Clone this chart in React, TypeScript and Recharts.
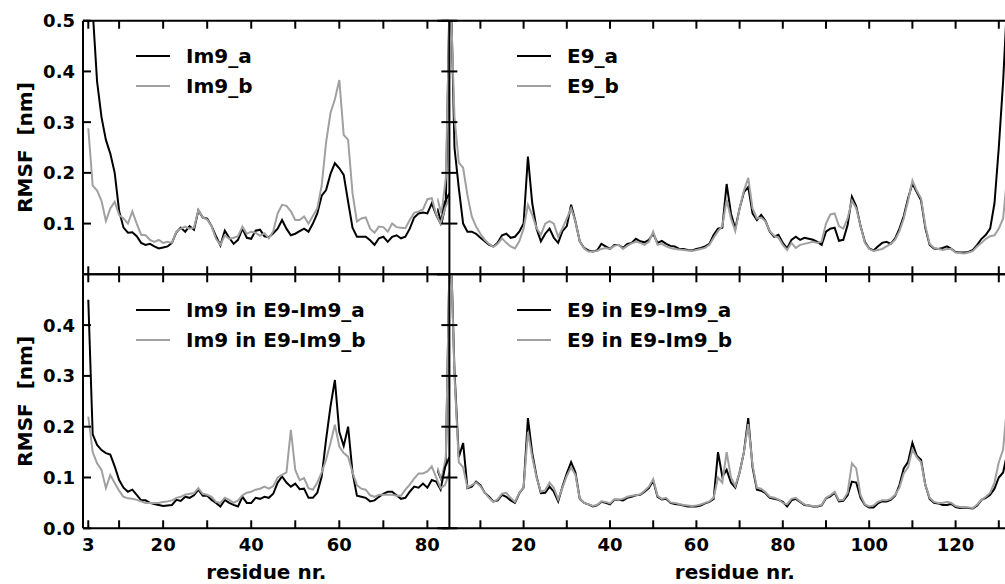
import React from "react";
import { LineChart, Line, XAxis, YAxis, Legend } from "recharts";

const FONT = "'DejaVu Sans', 'Liberation Sans', sans-serif";
const INK = "#000000";
const GREY = "#a0a0a0";

// Im9 residues, first value is residue 3
const IM9_FIRST = 3;
const im9A = [
  0.62, 0.52, 0.38, 0.31, 0.265, 0.238, 0.2, 0.125, 0.092, 0.082,
  0.083, 0.075, 0.062, 0.058, 0.06, 0.055, 0.051, 0.053, 0.055, 0.062,
  0.083, 0.092, 0.084, 0.095, 0.088, 0.126, 0.112, 0.11, 0.095, 0.075,
  0.057, 0.086, 0.072, 0.06, 0.068, 0.09, 0.072, 0.07, 0.086, 0.088,
  0.075, 0.073, 0.081, 0.09, 0.107, 0.09, 0.077, 0.08, 0.085, 0.09,
  0.084, 0.1, 0.12, 0.155, 0.166, 0.198, 0.219, 0.209, 0.196, 0.143,
  0.092, 0.074, 0.074, 0.074, 0.067, 0.058, 0.071, 0.074, 0.064, 0.074,
  0.077, 0.071, 0.074, 0.09, 0.112, 0.12, 0.122, 0.12, 0.14, 0.117,
  0.1, 0.143, 0.16,
];
const im9B = [
  0.288, 0.175, 0.165, 0.145, 0.105, 0.13, 0.143, 0.117, 0.11, 0.1,
  0.124, 0.1, 0.078, 0.077, 0.068, 0.064, 0.068, 0.062, 0.064, 0.062,
  0.084, 0.09, 0.094, 0.09, 0.092, 0.127, 0.112, 0.108, 0.095, 0.07,
  0.058, 0.077, 0.07, 0.072, 0.075, 0.094, 0.08, 0.084, 0.082, 0.076,
  0.081, 0.071, 0.085, 0.12, 0.137, 0.135, 0.124, 0.107, 0.107, 0.114,
  0.1, 0.115, 0.13, 0.175, 0.26, 0.318, 0.345, 0.383, 0.275, 0.265,
  0.16, 0.104, 0.11, 0.112, 0.09, 0.082, 0.094, 0.093, 0.084, 0.1,
  0.093, 0.092, 0.091, 0.107, 0.121, 0.124, 0.128, 0.148, 0.15, 0.118,
  0.1, 0.13, 0.15,
];
const im9InA = [
  0.45, 0.185, 0.164, 0.154, 0.148, 0.145, 0.122, 0.095, 0.08, 0.072,
  0.076, 0.066, 0.055, 0.055, 0.05, 0.048, 0.046, 0.044, 0.045, 0.046,
  0.056, 0.054, 0.062, 0.06, 0.065, 0.076, 0.064, 0.064, 0.056, 0.05,
  0.043, 0.056, 0.05, 0.046, 0.043, 0.062, 0.05, 0.05, 0.06, 0.058,
  0.062, 0.06, 0.068, 0.09, 0.102, 0.09, 0.082, 0.088, 0.077, 0.078,
  0.06, 0.06, 0.07, 0.102, 0.175, 0.24, 0.292, 0.19, 0.162, 0.2,
  0.11, 0.064, 0.062, 0.06, 0.053, 0.055, 0.062, 0.068, 0.072, 0.072,
  0.065, 0.058, 0.06, 0.072, 0.082, 0.08, 0.088, 0.08, 0.095, 0.092,
  0.076, 0.12, 0.14,
];
const im9InB = [
  0.22, 0.15, 0.128, 0.115, 0.079, 0.105, 0.089, 0.074, 0.062, 0.059,
  0.058, 0.056, 0.053, 0.05, 0.05, 0.05, 0.05, 0.052, 0.053, 0.055,
  0.06, 0.062, 0.066, 0.068, 0.069, 0.079, 0.068, 0.066, 0.062, 0.052,
  0.05, 0.06, 0.056, 0.05, 0.055, 0.065, 0.07, 0.072, 0.076, 0.078,
  0.082, 0.078, 0.083, 0.1, 0.105, 0.11, 0.194, 0.115, 0.095, 0.099,
  0.079, 0.076, 0.09, 0.11, 0.135, 0.168, 0.204, 0.161, 0.148, 0.141,
  0.11, 0.085, 0.078, 0.076, 0.065, 0.062, 0.066, 0.066, 0.066, 0.066,
  0.064, 0.064, 0.076, 0.086, 0.098, 0.108, 0.108, 0.112, 0.122, 0.1,
  0.079, 0.085, 0.11,
];

// E9 residues, first value is residue 0
const E9_FIRST = 0;
const e9A = [
  0.13, 0.1, 0.14, 0.62, 0.25, 0.17, 0.1, 0.084, 0.084, 0.08,
  0.072, 0.065, 0.058, 0.055, 0.062, 0.077, 0.08, 0.072, 0.074, 0.084,
  0.1, 0.232, 0.14, 0.09, 0.065, 0.08, 0.09, 0.072, 0.062, 0.085,
  0.095, 0.137, 0.104, 0.065, 0.052, 0.047, 0.045, 0.047, 0.06, 0.055,
  0.05, 0.058, 0.058, 0.052, 0.06, 0.062, 0.07, 0.065, 0.063, 0.068,
  0.08, 0.062, 0.066, 0.06, 0.056, 0.055, 0.05, 0.05, 0.048, 0.047,
  0.05, 0.052, 0.055, 0.06, 0.078, 0.09, 0.092, 0.178, 0.12, 0.09,
  0.13, 0.162, 0.172, 0.12, 0.107, 0.117, 0.105, 0.084, 0.074, 0.078,
  0.062, 0.051, 0.068, 0.074, 0.068, 0.072, 0.07, 0.068, 0.064, 0.058,
  0.084, 0.09, 0.092, 0.066, 0.068, 0.097, 0.153, 0.134, 0.095, 0.064,
  0.051, 0.047, 0.055, 0.062, 0.064, 0.06, 0.071, 0.09, 0.115, 0.15,
  0.179, 0.162, 0.146, 0.091, 0.058, 0.051, 0.05, 0.052, 0.055, 0.05,
  0.044, 0.043, 0.043, 0.044, 0.048, 0.058, 0.07, 0.078, 0.09, 0.14,
  0.25, 0.38, 0.55, 0.6, 0.6,
];
const e9B = [
  0.15, 0.12, 0.19, 0.58, 0.31, 0.22, 0.21, 0.156, 0.114, 0.094,
  0.08, 0.068, 0.06, 0.054, 0.06, 0.071, 0.062, 0.055, 0.051, 0.065,
  0.09, 0.137, 0.117, 0.091, 0.078, 0.1, 0.105, 0.1, 0.074, 0.091,
  0.11, 0.13, 0.104, 0.065, 0.051, 0.045, 0.045, 0.046, 0.05, 0.052,
  0.05, 0.056, 0.058, 0.05, 0.056, 0.061, 0.064, 0.062, 0.058, 0.064,
  0.084, 0.058, 0.06, 0.055, 0.052, 0.05, 0.049, 0.048, 0.047, 0.046,
  0.048, 0.05, 0.052, 0.058, 0.072, 0.085, 0.095, 0.147, 0.11, 0.085,
  0.13, 0.165, 0.19, 0.13, 0.11, 0.112, 0.104, 0.085, 0.076, 0.072,
  0.058, 0.048, 0.062, 0.052, 0.058, 0.06, 0.062, 0.064, 0.062, 0.065,
  0.1, 0.118, 0.12, 0.095, 0.09, 0.11, 0.145, 0.13, 0.095, 0.062,
  0.05, 0.046, 0.048, 0.05, 0.055, 0.06, 0.068, 0.085, 0.11, 0.145,
  0.185, 0.165, 0.15, 0.095, 0.06, 0.052, 0.05, 0.048, 0.05, 0.05,
  0.043, 0.042, 0.041, 0.043, 0.046, 0.055, 0.062, 0.07, 0.075, 0.077,
  0.09, 0.11, 0.2, 0.4, 0.5,
];
const e9InA = [
  0.115, 0.095, 0.13, 0.6, 0.31, 0.14, 0.168, 0.079, 0.082, 0.092,
  0.085, 0.07, 0.062, 0.053, 0.055, 0.066, 0.062, 0.055, 0.05, 0.069,
  0.08, 0.217, 0.148, 0.102, 0.069, 0.07, 0.082, 0.072, 0.053, 0.082,
  0.108, 0.13, 0.11, 0.058, 0.05, 0.047, 0.043, 0.045, 0.052, 0.05,
  0.047, 0.056, 0.056, 0.055, 0.06, 0.062, 0.065, 0.066, 0.072, 0.079,
  0.094, 0.062, 0.057, 0.058, 0.05, 0.048, 0.047, 0.045, 0.043, 0.043,
  0.043, 0.045, 0.049, 0.052, 0.058, 0.15, 0.102, 0.115, 0.09, 0.08,
  0.11, 0.15, 0.217, 0.12, 0.076, 0.074, 0.069, 0.06, 0.058, 0.056,
  0.052, 0.043, 0.055, 0.058, 0.052, 0.046, 0.045, 0.043, 0.043, 0.045,
  0.059, 0.063, 0.07, 0.053, 0.054, 0.065, 0.092, 0.09, 0.06, 0.046,
  0.041, 0.041, 0.049, 0.053, 0.053, 0.056, 0.064, 0.085, 0.118, 0.131,
  0.168, 0.143, 0.135, 0.085, 0.058, 0.05, 0.049, 0.046, 0.046, 0.048,
  0.042, 0.04, 0.041, 0.04, 0.039, 0.045, 0.056, 0.06, 0.066, 0.078,
  0.1, 0.11, 0.15, 0.25, 0.3,
];
const e9InB = [
  0.12, 0.095, 0.14, 0.6, 0.3, 0.13, 0.12, 0.08, 0.085, 0.09,
  0.083, 0.07, 0.06, 0.052, 0.057, 0.068, 0.07, 0.06, 0.052, 0.07,
  0.08, 0.19, 0.14, 0.1, 0.072, 0.075, 0.09, 0.08, 0.057, 0.08,
  0.103, 0.12, 0.105, 0.058, 0.05, 0.047, 0.044, 0.046, 0.053, 0.052,
  0.049, 0.057, 0.056, 0.058, 0.062, 0.064, 0.065, 0.067, 0.074, 0.082,
  0.097, 0.064, 0.058, 0.06, 0.051, 0.05, 0.048, 0.046, 0.045, 0.044,
  0.045, 0.047, 0.05, 0.053, 0.06, 0.1, 0.09, 0.15, 0.1, 0.083,
  0.11, 0.15, 0.205, 0.125, 0.08, 0.078, 0.071, 0.062, 0.06, 0.057,
  0.05, 0.047, 0.058, 0.06, 0.053, 0.047, 0.045, 0.044, 0.044, 0.046,
  0.06, 0.065, 0.072, 0.055, 0.056, 0.07, 0.128, 0.118, 0.065, 0.047,
  0.043, 0.045, 0.052, 0.055, 0.055, 0.058, 0.066, 0.08, 0.108, 0.12,
  0.155, 0.14, 0.13, 0.085, 0.06, 0.052, 0.05, 0.05, 0.052, 0.05,
  0.044, 0.042, 0.042, 0.041, 0.04, 0.047, 0.056, 0.062, 0.07, 0.09,
  0.13, 0.155, 0.25, 0.35, 0.4,
];

const im9Ticks = [3, 10, 20, 30, 40, 50, 60, 70, 80];
const im9TickLabels = [3, 20, 40, 60, 80];
const e9Ticks = [10, 20, 30, 40, 50, 60, 70, 80, 90, 100, 110, 120, 130];
const e9TickLabels = [20, 40, 60, 80, 100, 120];
const upperYTicks = [0.1, 0.2, 0.3, 0.4, 0.5];
const lowerYTicks = [0, 0.1, 0.2, 0.3, 0.4];

const im9Rows = im9A.map((v, i) => ({
  res: IM9_FIRST + i,
  a: v,
  b: im9B[i],
  ca: im9InA[i],
  cb: im9InB[i],
}));
const e9Rows = e9A.map((v, i) => ({
  res: E9_FIRST + i,
  a: v,
  b: e9B[i],
  ca: e9InA[i],
  cb: e9InB[i],
}));

// page layout (px)
const W = 1005;
const H = 584;
const TOP = 20.7;
const MID = 274.3;
const BOT = 528.3;
const LEFT = 83;
const SPLIT = 449.4;
const E9_ZERO = 437.2;
const E9_END = 1020.4;
const WIDE = 1040;
const TICK = 8;
const AX = 1; // thickness given to each axis box (recharts skips 0-sized axes)

const tickFont = { fontFamily: FONT, fontWeight: 700, fontSize: 18, fill: INK };
const titleFont = { fontFamily: FONT, fontWeight: 700, fontSize: 20, fill: INK };
const frame = { stroke: INK, strokeWidth: 2 };

const xTick = (dir: number, labels: number[] | null) => (p: any) => {
  const v = p.payload.value;
  return (
    <g>
      <line x1={p.x} y1={p.y} x2={p.x} y2={p.y + dir * TICK} stroke={INK} strokeWidth={2} />
      {labels && labels.includes(v) ? (
        <text x={p.x} y={p.y + 10} dy="0.72em" textAnchor="middle" style={tickFont}>
          {v}
        </text>
      ) : null}
    </g>
  );
};

const yTickLeft = (p: any) => (
  <g>
    <line x1={p.x} y1={p.y} x2={p.x + TICK} y2={p.y} stroke={INK} strokeWidth={2} />
    <text x={p.x - 8} y={p.y} dy="0.36em" textAnchor="end" style={tickFont}>
      {Number(p.payload.value).toFixed(1)}
    </text>
  </g>
);

const yTickBoth = (p: any) => (
  <line x1={p.x - TICK} y1={p.y} x2={p.x + TICK} y2={p.y} stroke={INK} strokeWidth={2} />
);

const yTitle = (cy: number) => () => (
  <text
    x={25}
    y={cy}
    transform={`rotate(-90 25 ${cy})`}
    textAnchor="middle"
    dominantBaseline="central"
    style={{ ...titleFont, whiteSpace: "pre" }}
  >
    {"RMSF  [nm]"}
  </text>
);

const xTitle = (cx: number) => () => (
  <text x={cx} y={579} textAnchor="middle" style={titleFont}>
    residue nr.
  </text>
);

const legendBox = (props: any) => (
  <div style={{ fontFamily: FONT, fontWeight: 700, fontSize: 20, color: INK }}>
    {(props.payload || []).map((e: any) => (
      <div key={e.value} style={{ display: "flex", alignItems: "center", height: 30 }}>
        <svg width={34} height={4} style={{ marginRight: 16, flex: "none" }}>
          <line x1={0} y1={2} x2={34} y2={2} stroke={e.color} strokeWidth={2} />
        </svg>
        <span style={{ whiteSpace: "nowrap", lineHeight: "30px" }}>{e.value}</span>
      </div>
    ))}
  </div>
);

type PanelProps = {
  rows: any[];
  keyA: string;
  keyB: string;
  nameA: string;
  nameB: string;
  chartWidth: number;
  plotLeft: number;
  plotRight: number;
  axisStart: number;
  plotTop: number;
  plotBottom: number;
  domain: [number, number];
  xTicks: number[];
  xLabels: number[] | null;
  yTicks: number[] | null;
  legendX: number;
};

function Panel(p: PanelProps) {
  const withY = p.yTicks !== null;
  return (
    <div style={{ position: "absolute", left: 0, top: 0 }}>
      <LineChart
        width={p.chartWidth}
        height={H}
        data={p.rows}
        margin={{
          top: p.plotTop - AX,
          bottom: H - p.plotBottom - AX,
          left: withY ? p.plotLeft - AX : p.plotLeft,
          right: withY ? p.chartWidth - p.plotRight - AX : p.chartWidth - p.plotRight,
        }}
      >
        <XAxis
          dataKey="res"
          type="number"
          domain={p.domain}
          allowDataOverflow
          ticks={p.xTicks}
          interval={0}
          height={AX}
          tickSize={0}
          tickMargin={0}
          axisLine={frame}
          tickLine={false}
          tick={xTick(-1, p.xLabels)}
          label={p.xLabels ? xTitle((p.axisStart + p.plotRight) / 2) : undefined}
        />
        <XAxis
          xAxisId="top"
          orientation="top"
          dataKey="res"
          type="number"
          domain={p.domain}
          allowDataOverflow
          ticks={p.xTicks}
          interval={0}
          height={AX}
          tickSize={0}
          tickMargin={0}
          axisLine={frame}
          tickLine={false}
          tick={xTick(1, null)}
        />
        {withY ? (
          <YAxis
            type="number"
            domain={[0, 0.5]}
            allowDataOverflow
            ticks={p.yTicks as number[]}
            interval={0}
            width={AX}
            tickSize={0}
            tickMargin={0}
            axisLine={frame}
            tickLine={false}
            tick={yTickLeft}
            label={yTitle((p.plotTop + p.plotBottom) / 2)}
          />
        ) : (
          <YAxis type="number" domain={[0, 0.5]} allowDataOverflow hide />
        )}
        {withY ? (
          <YAxis
            yAxisId="r"
            orientation="right"
            type="number"
            domain={[0, 0.5]}
            allowDataOverflow
            ticks={p.yTicks as number[]}
            interval={0}
            width={AX}
            tickSize={0}
            tickMargin={0}
            axisLine={frame}
            tickLine={false}
            tick={yTickBoth}
          />
        ) : null}
        <Legend
          layout="vertical"
          align="center"
          verticalAlign="middle"
          wrapperStyle={{ left: p.legendX, top: p.plotTop + 20.5, width: 420 }}
          content={legendBox}
        />
        <Line
          type="linear"
          dataKey={p.keyA}
          name={p.nameA}
          stroke={INK}
          strokeWidth={2}
          dot={false}
          isAnimationActive={false}
        />
        <Line
          type="linear"
          dataKey={p.keyB}
          name={p.nameB}
          stroke={GREY}
          strokeWidth={2}
          dot={false}
          isAnimationActive={false}
        />
      </LineChart>
    </div>
  );
}

export default function App() {
  const left = {
    rows: im9Rows,
    chartWidth: W,
    plotLeft: LEFT,
    plotRight: SPLIT,
    axisStart: LEFT,
    domain: [1.8, 85] as [number, number],
    xTicks: im9Ticks,
    legendX: 136,
  };
  const right = {
    rows: e9Rows,
    chartWidth: WIDE,
    plotLeft: E9_ZERO,
    plotRight: E9_END,
    axisStart: SPLIT,
    domain: [0, 135] as [number, number],
    xTicks: e9Ticks,
    yTicks: null,
    legendX: 517,
  };
  return (
    <div
      style={{
        position: "fixed",
        left: 0,
        top: 0,
        width: W,
        height: H,
        overflow: "hidden",
        background: "#ffffff",
      }}
    >
      <Panel {...right} keyA="a" keyB="b" nameA="E9_a" nameB="E9_b"
        plotTop={TOP} plotBottom={MID} xLabels={null} />
      <Panel {...right} keyA="ca" keyB="cb" nameA="E9 in E9-Im9_a" nameB="E9 in E9-Im9_b"
        plotTop={MID} plotBottom={BOT} xLabels={e9TickLabels} />
      <Panel {...left} keyA="a" keyB="b" nameA="Im9_a" nameB="Im9_b"
        plotTop={TOP} plotBottom={MID} xLabels={null} yTicks={upperYTicks} />
      <Panel {...left} keyA="ca" keyB="cb" nameA="Im9 in E9-Im9_a" nameB="Im9 in E9-Im9_b"
        plotTop={MID} plotBottom={BOT} xLabels={im9TickLabels} yTicks={lowerYTicks} />
    </div>
  );
}
